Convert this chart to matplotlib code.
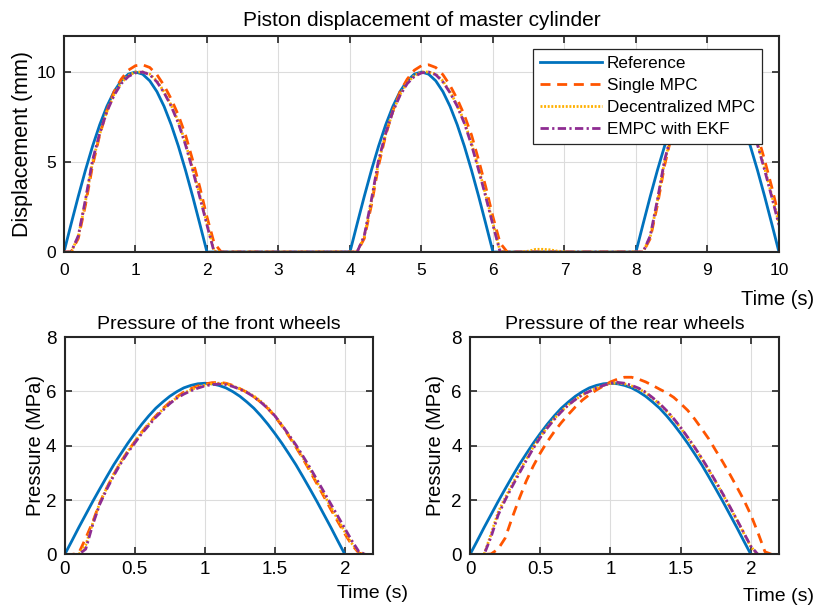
import numpy as np
import matplotlib
matplotlib.use("Agg")
import matplotlib.pyplot as plt

plt.rcParams['font.family'] = ['Liberation Sans', 'DejaVu Sans']
plt.rcParams['font.size'] = 12

# ---- piston displacement (mm), sampled every 0.1 s from 0 to 10 s ----
t_disp = np.round(np.arange(0, 101) * 0.1, 2)

disp_ref = ([0, 1.56, 3.09, 4.54, 5.88, 7.07, 8.09, 8.91, 9.51, 9.88, 10.0,
             9.88, 9.51, 8.91, 8.09, 7.07, 5.88, 4.54, 3.09, 1.56, 0]
            + [0] * 19
            + [0, 1.56, 3.09, 4.54, 5.88, 7.07, 8.09, 8.91, 9.51, 9.88, 10.0,
               9.88, 9.51, 8.91, 8.09, 7.07, 5.88, 4.54, 3.09, 1.56, 0]
            + [0] * 19
            + [0, 1.56, 3.09, 4.54, 5.88, 7.07, 8.09, 8.91, 9.51, 9.88, 10.0,
               9.88, 9.51, 8.91, 8.09, 7.07, 5.88, 4.54, 3.09, 1.56, 0])

disp_single = ([0, 0, 0.75, 2.6, 4.8, 6.5, 7.85, 8.9, 9.6, 10.1, 10.35,
                10.4, 10.25, 9.85, 9.25, 8.5, 7.6, 6.5, 5.1, 3.6, 1.95]
               + [0.5] + [0] * 18
               + [0, 0, 0.75, 2.6, 4.8, 6.5, 7.85, 8.9, 9.6, 10.1, 10.35,
                  10.4, 10.25, 9.85, 9.25, 8.5, 7.6, 6.5, 5.1, 3.6, 1.95]
               + [0.5] + [0] * 18
               + [0, 0, 0.75, 2.6, 4.8, 6.5, 7.85, 8.9, 9.6, 10.1, 10.35,
                  10.4, 10.25, 9.85, 9.25, 8.5, 7.6, 6.5, 5.1, 3.6, 1.95])

disp_decent = ([0, 0, 0.85, 2.8, 5.0, 6.55, 7.8, 8.75, 9.4, 9.8, 10.0,
                10.0, 9.88, 9.5, 8.9, 8.15, 7.25, 6.05, 4.65, 3.15, 1.6]
               + [0.05] + [0] * 18
               + [0, 0, 0.85, 2.8, 5.0, 6.55, 7.8, 8.75, 9.4, 9.8, 10.0,
                  10.0, 9.88, 9.5, 8.9, 8.15, 7.25, 6.05, 4.65, 3.15, 1.6]
               + [0.05, 0, 0, 0, 0.05, 0.15, 0.15, 0.12, 0.05, 0.02]
               + [0] * 9
               + [0, 0, 0.85, 2.8, 5.0, 6.55, 7.8, 8.75, 9.4, 9.8, 10.0,
                  10.0, 9.88, 9.5, 8.9, 8.15, 7.25, 6.05, 4.65, 3.15, 1.6])

disp_empc = ([0, 0, 0.9, 2.9, 5.1, 6.6, 7.8, 8.7, 9.35, 9.75, 9.95,
              10.0, 9.85, 9.45, 8.85, 8.1, 7.15, 5.95, 4.55, 3.05, 1.5]
             + [0] * 19
             + [0, 0, 0.9, 2.9, 5.1, 6.6, 7.8, 8.7, 9.35, 9.75, 9.95,
                10.0, 9.85, 9.45, 8.85, 8.1, 7.15, 5.95, 4.55, 3.05, 1.5]
             + [0] * 19
             + [0, 0, 0.9, 2.9, 5.1, 6.6, 7.8, 8.7, 9.35, 9.75, 9.95,
                10.0, 9.85, 9.45, 8.85, 8.1, 7.15, 5.95, 4.55, 3.05, 1.5])

# ---- wheel cylinder pressure (MPa), sampled every 0.05 s from 0 to 2.2 s ----
t_pres = np.round(np.arange(0, 45) * 0.05, 3)

pres_ref = [0, 0.49, 0.99, 1.47, 1.95, 2.41, 2.86, 3.30, 3.70, 4.09, 4.45,
            4.79, 5.10, 5.38, 5.61, 5.82, 5.99, 6.13, 6.22, 6.28, 6.30,
            6.28, 6.22, 6.13, 5.99, 5.82, 5.61, 5.38, 5.10, 4.79, 4.45,
            4.09, 3.70, 3.30, 2.86, 2.41, 1.95, 1.47, 0.99, 0.49, 0,
            0, 0, 0, 0]

front_single = [0, 0, 0.05, 0.6, 1.2, 1.9, 2.45, 2.95, 3.4, 3.8, 4.15,
                4.5, 4.82, 5.1, 5.37, 5.6, 5.8, 5.97, 6.1, 6.2, 6.27,
                6.32, 6.33, 6.3, 6.22, 6.1, 5.97, 5.8, 5.6, 5.37, 5.08,
                4.73, 4.35, 3.95, 3.52, 3.07, 2.6, 2.13, 1.65, 1.2, 0.75,
                0.35, 0.05, 0, 0]

front_decent = [0, 0, 0, 0.35, 1.15, 1.9, 2.45, 2.95, 3.4, 3.8, 4.15,
                4.5, 4.8, 5.08, 5.34, 5.57, 5.77, 5.93, 6.06, 6.16, 6.23,
                6.28, 6.3, 6.28, 6.2, 6.1, 5.97, 5.83, 5.63, 5.4, 5.1,
                4.76, 4.38, 3.98, 3.56, 3.12, 2.66, 2.2, 1.74, 1.28, 0.83,
                0.4, 0.07, 0, 0]

front_empc = [0, 0, 0, 0.2, 1.1, 1.85, 2.4, 2.9, 3.35, 3.75, 4.1,
              4.45, 4.75, 5.05, 5.3, 5.55, 5.75, 5.9, 6.02, 6.12, 6.2,
              6.25, 6.27, 6.25, 6.18, 6.08, 5.96, 5.8, 5.6, 5.37, 5.1,
              4.76, 4.4, 4.03, 3.62, 3.2, 2.75, 2.3, 1.85, 1.4, 0.95,
              0.5, 0.1, 0, 0]

rear_single = [0, 0, 0, 0.02, 0.2, 0.6, 1.35, 2.05, 2.7, 3.25, 3.73,
               4.15, 4.52, 4.85, 5.15, 5.43, 5.68, 5.88, 6.05, 6.2, 6.35,
               6.45, 6.52, 6.52, 6.45, 6.35, 6.22, 6.08, 5.95, 5.78, 5.55,
               5.3, 4.98, 4.62, 4.25, 3.82, 3.4, 2.95, 2.48, 2.0, 1.45,
               0.8, 0.1, 0, 0]

rear_decent = [0, 0, 0, 0.75, 1.55, 2.08, 2.58, 3.05, 3.5, 3.95, 4.33,
               4.68, 5.0, 5.27, 5.5, 5.7, 5.87, 6.0, 6.12, 6.22, 6.29,
               6.31, 6.28, 6.2, 6.1, 5.95, 5.75, 5.53, 5.27, 4.98, 4.65,
               4.29, 3.92, 3.52, 3.1, 2.66, 2.21, 1.74, 1.26, 0.77, 0.28,
               0, 0, 0, 0]

rear_empc = [0, 0, 0, 0.65, 1.45, 2.0, 2.5, 2.98, 3.45, 3.9, 4.3,
             4.65, 4.97, 5.25, 5.5, 5.7, 5.88, 6.0, 6.12, 6.22, 6.3,
             6.33, 6.3, 6.22, 6.12, 5.97, 5.77, 5.55, 5.29, 5.0, 4.67,
             4.31, 3.94, 3.54, 3.12, 2.68, 2.23, 1.76, 1.28, 0.79, 0.30,
             0, 0, 0, 0]

labels = ['Reference', 'Single MPC', 'Decentralized MPC', 'EMPC with EKF']
colors = ['#0072BD', '#FF5500', '#FFB000', '#8E2C92']
dashes = [None, (3.6, 2.4), (0.7, 0.6), (3.0, 1.2, 0.8, 1.2)]


def draw_lines(ax, t, series):
    for y, c, d, lab in zip(series, colors, dashes, labels):
        line, = ax.plot(t, y, color=c, lw=2.0, label=lab)
        if d is not None:
            line.set_dashes(d)


def style_axes(ax, xpad, size):
    ax.grid(True, color='#dcdcdc', lw=0.8)
    ax.set_axisbelow(True)
    ax.tick_params(direction='in', top=True, right=True, length=5,
                   width=1.2, labelsize=size, color='#262626')
    ax.tick_params(axis='x', pad=xpad)
    ax.tick_params(axis='y', pad=6)
    for s in ax.spines.values():
        s.set_linewidth(1.5)
        s.set_color('#262626')


fig = plt.figure(figsize=(8.16, 6.08), dpi=100)

# top: master cylinder piston
ax1 = fig.add_axes([0.0784, 0.5855, 0.8762, 0.3553])
draw_lines(ax1, t_disp, [disp_ref, disp_single, disp_decent, disp_empc])
ax1.set_xlim(0, 10)
ax1.set_ylim(0, 12)
ax1.set_xticks(range(0, 11))
ax1.set_yticks([0, 5, 10])
style_axes(ax1, 8, 12.5)
ax1.set_title('Piston displacement of master cylinder', fontsize=15, pad=7)
ax1.set_ylabel('Displacement (mm)', fontsize=15.5)
ax1.yaxis.set_label_coords(-0.043, 0.5)
ax1.set_xlabel('Time (s)', fontsize=14.5, va='center')
ax1.xaxis.set_label_coords(0.998, -0.222)
leg = ax1.legend(loc='upper right', bbox_to_anchor=(0.976, 0.94),
                 borderaxespad=0, fontsize=12.3, handlelength=3.6,
                 fancybox=False, framealpha=1, edgecolor='#262626',
                 labelspacing=0.42, borderpad=0.4, handletextpad=0.3)
leg.get_frame().set_linewidth(0.9)

# bottom: wheel pressures
ax2 = fig.add_axes([0.0793, 0.0880, 0.3778, 0.3577])
draw_lines(ax2, t_pres, [pres_ref, front_single, front_decent, front_empc])
ax2.set_title('Pressure of the front wheels', fontsize=14, pad=6)

ax3 = fig.add_axes([0.576, 0.0880, 0.3787, 0.3577])
draw_lines(ax3, t_pres, [pres_ref, rear_single, rear_decent, rear_empc])
ax3.set_title('Pressure of the rear wheels', fontsize=14, pad=6)

for ax, lx, ly in [(ax2, -0.064, -0.18), (ax3, -0.081, -0.194)]:
    ax.set_xlim(0, 2.2)
    ax.set_ylim(0, 8)
    ax.set_xticks([0, 0.5, 1, 1.5, 2])
    ax.set_xticklabels(['0', '0.5', '1', '1.5', '2'])
    ax.set_yticks([0, 2, 4, 6, 8])
    style_axes(ax, 5, 13.5)
    ax.set_ylabel('Pressure (MPa)', fontsize=14.5)
    ax.yaxis.set_label_coords(lx, 0.5)
    ax.set_xlabel('Time (s)', fontsize=14, va='center')
    ax.xaxis.set_label_coords(0.997, ly)

fig.savefig('out.png', dpi=100)
